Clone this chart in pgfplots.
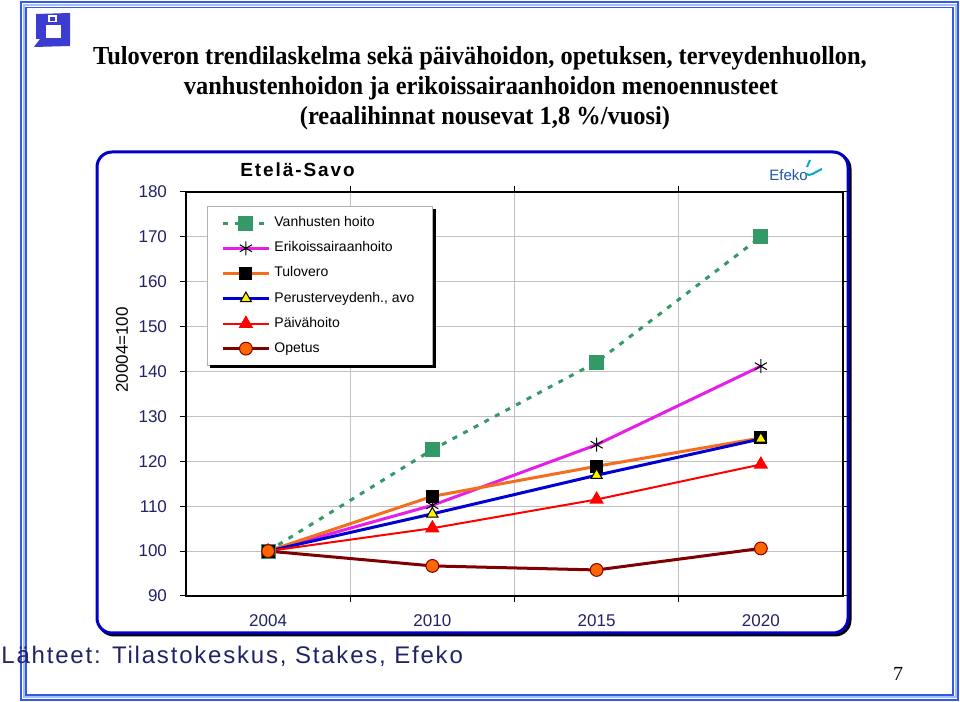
\documentclass[border=0pt]{standalone}
\usepackage{fontspec}
\setmainfont{Liberation Sans}
\newfontfamily\timesfont{Liberation Serif}
\usepackage{pgfplots}
\pgfplotsset{compat=1.18}

\definecolor{navy}{RGB}{34,34,102}
\definecolor{frameblue}{RGB}{50,90,230}
\definecolor{framelight}{RGB}{165,190,255}
\definecolor{chartblue}{RGB}{0,0,200}
\definecolor{logoblue}{RGB}{60,60,210}
\definecolor{efeko}{RGB}{35,85,165}
\definecolor{swoosh}{RGB}{0,170,200}
\definecolor{vgreen}{RGB}{51,153,102}
\definecolor{emag}{RGB}{230,30,230}
\definecolor{torange}{RGB}{245,110,30}
\definecolor{pblue}{RGB}{0,0,210}
\definecolor{pred}{RGB}{255,0,0}
\definecolor{odark}{RGB}{128,0,0}
\definecolor{ofill}{RGB}{255,102,0}
\definecolor{gridgray}{RGB}{192,192,192}

\begin{document}
\begin{tikzpicture}
% slide background, drawn in image pixel coordinates
\begin{scope}[x=0.5pt,y=-0.5pt,yshift=351pt]
\path[use as bounding box] (0,0) rectangle (960,702);
\fill[white] (0,0) rectangle (960,702);
\draw[frameblue,line width=1pt] (21,2.5) rectangle (958,700);
\draw[framelight,line width=1pt] (23.5,5) rectangle (955.5,697.5);
\draw[frameblue,line width=0.75pt] (26,7.5) rectangle (953,695);
% logo
\fill[logoblue] (36,14) -- (70,13) -- (70,46) -- (34,47) -- (40,39) -- (36,39) -- cycle;
\fill[white] (46,25) rectangle (61,38);
\fill[white] (48,15.5) rectangle (57,22.5);
\fill[logoblue] (50,17) rectangle (55,21.5);
% title
\node[anchor=base,font=\timesfont\bfseries\fontsize{13}{15}\selectfont] at (480,65)
  {\scalebox{0.94}[1]{Tuloveron trendilaskelma sekä päivähoidon, opetuksen, terveydenhuollon,}};
\node[anchor=base,font=\timesfont\bfseries\fontsize{13}{15}\selectfont] at (481,95)
  {\scalebox{0.94}[1]{vanhustenhoidon ja erikoissairaanhoidon menoennusteet}};
\node[anchor=base,font=\timesfont\bfseries\fontsize{13}{15}\selectfont] at (485,125)
  {\scalebox{0.94}[1]{(reaalihinnat nousevat 1,8 \%/vuosi)}};
% chart frame
\draw[black,line width=1.5pt,rounded corners=7.5pt] (99,154) rectangle (850,635);
\draw[chartblue,line width=1.5pt,rounded corners=7.5pt,fill=white] (97,152) rectangle (848,633);
\end{scope}

\begin{axis}[
  at={(93pt,53pt)}, anchor=south west,
  scale only axis,
  width=328.5pt, height=202pt,
  xmin=-0.5, xmax=3.5,
  ymin=90, ymax=180,
  xtick={0,1,2,3},
  xticklabels={2004,2010,2015,2020},
  minor xtick={0.5,1.5,2.5},
  ytick={90,100,...,180},
  major x tick style={draw=none},
  minor x tick style={black,line width=0.5pt},
  y tick style={black,line width=0.5pt},
  tick align=outside,
  major tick length=3pt,
  minor tick length=3pt,
  xminorgrids, ymajorgrids,
  grid style={gridgray,line width=0.5pt},
  minor grid style={gridgray,line width=0.5pt},
  axis line style={black,line width=0.8pt},
  tick label style={font=\fontsize{8.5}{10}\selectfont,text=navy},
  /pgf/number format/assume math mode=true,
  xticklabel style={yshift=-3pt},
  yticklabel style={xshift=-3pt},
  legend style={name=leg,at={(0.032,0.965)},anchor=north west,
    draw=gray!60,line width=0.4pt,fill=white,
    font=\fontsize{7}{8}\selectfont,
    row sep=2pt,inner xsep=7pt,inner ysep=3pt,
    cells={anchor=west}},
  legend image code/.code={\draw[mark repeat=2,mark phase=2] plot coordinates {(0pt,0pt) (11.5pt,0pt) (23pt,0pt)};},
  legend cell align=left,
]
\addplot[vgreen,line width=1.5pt,dash pattern=on 2.5pt off 3.5pt,
  mark=square*,mark size=3pt,mark options={solid,fill=vgreen,draw=vgreen}]
  coordinates {(0,100) (1,122.6) (2,142.1) (3,170.0)};
\addlegendentry{Vanhusten hoito}
\addplot[emag,line width=1.5pt,
  mark=asterisk,mark size=3.5pt,mark options={black,line width=0.5pt}]
  coordinates {(0,100) (1,110.2) (2,123.7) (3,141.2)};
\addlegendentry{Erikoissairaanhoito}
\addplot[torange,line width=1.5pt,
  mark=square*,mark size=2.5pt,mark options={fill=black,draw=black}]
  coordinates {(0,100) (1,112.2) (2,118.9) (3,125.2)};
\addlegendentry{Tulovero}
\addplot[pblue,line width=1.5pt,
  mark=triangle*,mark size=3.2pt,mark options={fill=yellow,draw=black,line width=0.5pt}]
  coordinates {(0,100) (1,108.3) (2,116.9) (3,125.0)};
\addlegendentry{Perusterveydenh., avo}
\addplot[pred,line width=1pt,
  mark=triangle*,mark size=3.2pt,mark options={fill=pred,draw=pred}]
  coordinates {(0,100) (1,105.1) (2,111.5) (3,119.3)};
\addlegendentry{Päivähoito}
\addplot[odark,line width=1.5pt,
  mark=*,mark size=3.2pt,mark options={fill=ofill,draw=odark,line width=0.5pt}]
  coordinates {(0,100) (1,96.7) (2,95.8) (3,100.6)};
\addlegendentry{Opetus}
\end{axis}
% legend shadow
\fill[black] ([yshift=-1.5pt]leg.north east) rectangle ([xshift=1.5pt,yshift=-1.5pt]leg.south east);
\fill[black] ([xshift=1.5pt]leg.south west) rectangle ([xshift=1.5pt,yshift=-1.5pt]leg.south east);

\begin{scope}[x=0.5pt,y=-0.5pt,yshift=351pt]
% chart title, label and logo
\node[anchor=base west,inner sep=0pt,font=\bfseries\fontsize{9.5}{11}\selectfont\addfontfeature{LetterSpace=10}] at (240,177) {Etelä-Savo};
\node[rotate=90,font=\fontsize{8.5}{10}\selectfont] at (122,350) {20004=100};
\node[anchor=base west,inner sep=0pt,text=efeko,font=\fontsize{7.5}{9}\selectfont] at (769,181) {Efeko};
\draw[swoosh,line width=1pt] (806,174) .. controls (810,177) and (815,172) .. (822,169);
\draw[swoosh,line width=1pt] (807,167) -- (810,160);
% source and page number
\node[anchor=west,inner sep=0pt,text=navy,font=\fontsize{12}{14}\selectfont\addfontfeature{LetterSpace=7.5}] at (1,656) {Lähteet: Tilastokeskus, Stakes, Efeko};
\node[anchor=base,inner sep=0pt,font=\timesfont\fontsize{10}{12}\selectfont] at (898,681) {7};
\end{scope}
\end{tikzpicture}
\end{document}
